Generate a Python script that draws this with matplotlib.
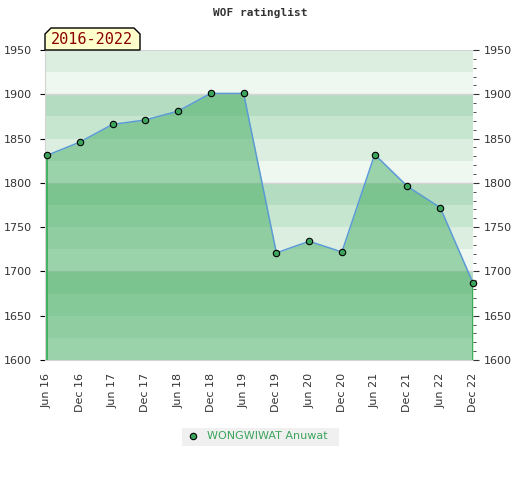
import matplotlib
matplotlib.use("Agg")
import matplotlib.pyplot as plt
from matplotlib.patches import Polygon, Rectangle
import numpy as np

labels = ["Jun 16", "Dec 16", "Jun 17", "Dec 17", "Jun 18", "Dec 18", "Jun 19",
          "Dec 19", "Jun 20", "Dec 20", "Jun 21", "Dec 21", "Jun 22", "Dec 22"]
ratings = [1831, 1846, 1866, 1871, 1881, 1901, 1901,
           1721, 1734, 1722, 1832, 1796, 1772, 1687]
player = "WONGWIWAT Anuwat"
period = "2016-2022"
title = "WOF ratinglist"

ymin, ymax = 1600, 1950
x = np.arange(len(ratings))

fig = plt.figure(figsize=(5.2, 4.8), dpi=100)
ax = fig.add_axes([45/520, 1-360/480, 428/520, 310/480])
ax.set_xlim(-0.06, len(ratings)-1)
ax.set_ylim(ymin, ymax)

band_colors = ["#b3dcc0", "#c7e6d0", "#dbeee0", "#eff7f1"]
for lo in range(ymin, ymax, 25):
    k = ((1900 - (lo + 25)) // 25) % 4
    ax.axhspan(lo, lo+25, color=band_colors[k], lw=0, zorder=0)
for g in (1700, 1800, 1900):
    ax.axhline(g, color="#d4d4d4", lw=1, zorder=1)

ax.fill_between(x, ratings, ymin, color="#3caa5a", alpha=0.47, lw=0, zorder=2)
ax.vlines([x[0], x[-1]], ymin, [ratings[0], ratings[-1]], color="#2ea84f", lw=1.2, zorder=3)
ax.plot(x, ratings, color="#5b9bd5", lw=1.1, zorder=4)
ax.plot(x, ratings, "o", ms=4.6, mfc="#3ba55c", mec="black", mew=0.8, zorder=5, clip_on=False)

for s in ["left", "bottom", "top"]:
    ax.spines[s].set_color("#d4d4d4")
ax.spines["right"].set_visible(False)

ax.set_xticks(x)
ax.set_xticklabels(labels, rotation=90, fontsize=8, color="#333333")
ax.tick_params(axis="x", length=0, pad=9)
ax.set_yticks(range(ymin, ymax+1, 50))
ax.tick_params(axis="y", left=False, labelsize=8, labelcolor="#333333", pad=6)

ax2 = ax.twinx()
ax2.set_ylim(ymin, ymax)
ax2.set_yticks(range(ymin, ymax+1, 50))
ax2.set_yticks(range(ymin, ymax+1, 10), minor=True)
ax2.tick_params(axis="y", which="major", length=4, labelsize=8, labelcolor="#333333", color="#333333", pad=4)
ax2.tick_params(axis="y", which="minor", length=2.5, color="#333333")
for s in ["left", "bottom", "top", "right"]:
    ax2.spines[s].set_visible(False)

fig.text(260/520, 1-13/480, title, ha="center", va="center", fontsize=8,
         family="DejaVu Sans Mono", fontweight="bold", color="#333333")

# period label box
x0, x1, y0, y1, c = 45, 140, 50, 28, 6
pts = [(x0, y0), (x0, y1+c), (x0+c, y1), (x1-c, y1), (x1, y1+c), (x1, y0)]
pts = [(px/520, 1-py/480) for px, py in pts]
fig.patches.append(Polygon(pts, closed=True, transform=fig.transFigure,
                           fc="#ffffcc", ec="black", lw=1, zorder=10))
fig.text(92/520, 1-40/480, period, ha="center", va="center", fontsize=11,
         family="DejaVu Sans Mono", color="#8b0000", zorder=11)

# legend
fig.patches.append(Rectangle((182/520, 1-446/480), 157/520, 18/480, transform=fig.transFigure,
                             fc="#f0f0f0", ec="none"))
fig.lines.append(plt.Line2D([193/520], [1-436/480], marker="o", ms=4.6, mfc="#3ba55c",
                            mec="black", mew=0.8, transform=fig.transFigure))
fig.text(207/520, 1-436/480, player, ha="left", va="center", fontsize=8, color="#3ba55c")

fig.savefig("out.png", dpi=100)
